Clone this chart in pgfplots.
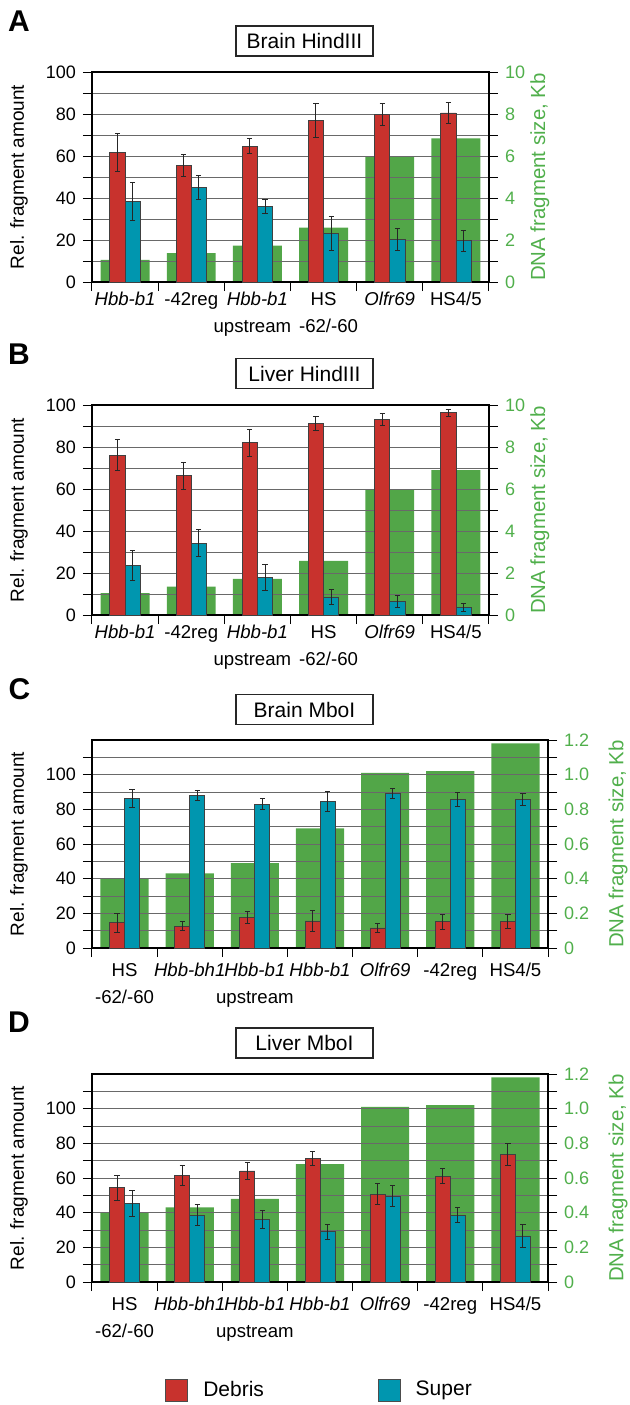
\documentclass[border=0pt]{standalone}
\usepackage{fontspec}
\setmainfont{Liberation Sans}
\usepackage{pgfplots}
\usepackage{pgfplotstable}
\pgfplotsset{compat=1.18}
\definecolor{cred}{RGB}{200,50,45}
\definecolor{cblue}{RGB}{0,150,175}
\definecolor{cgreen}{RGB}{82,166,72}
\definecolor{ctext}{RGB}{80,175,75}
\definecolor{cgrid}{RGB}{105,105,105}

% x: category position; xd/xs: positions of the Debris/Super bars
\pgfplotstableread{
x xd xs d de s se g
0 -0.115 0.115 61.6 9.0 38.4 9.0 1.05
1 0.885 1.115 55.6 5.2 45.2 5.7 1.37
2 1.885 2.115 64.6 3.6 35.9 3.4 1.73
3 2.885 3.115 76.8 8.0 23.3 8.1 2.59
4 3.885 4.115 79.7 5.2 20.2 5.2 5.98
5 4.885 5.115 80.5 4.9 19.7 5.0 6.84
}\tabA
\pgfplotstableread{
x xd xs d de s se g
0 -0.115 0.115 76.1 7.3 23.6 7.3 1.04
1 0.885 1.115 66.4 6.4 34.2 6.5 1.35
2 1.885 2.115 82.0 6.4 18.0 6.2 1.72
3 2.885 3.115 91.2 3.5 8.6 3.6 2.58
4 3.885 4.115 93.0 2.8 6.5 2.8 6.00
5 4.885 5.115 96.3 1.7 3.7 1.8 6.90
}\tabB
\pgfplotstableread{
x xd xs d de s se g
0 -0.115 0.115 14.5 5.5 86.3 5.4 0.40
1 0.885 1.115 12.7 2.6 88.0 3.0 0.43
2 1.885 2.115 17.6 3.3 83.0 3.3 0.49
3 2.885 3.115 15.6 6.0 84.6 5.8 0.69
4 3.885 4.115 11.6 2.6 89.0 2.8 1.01
5 4.885 5.115 15.1 4.4 85.7 4.2 1.02
6 5.885 6.115 15.1 4.0 85.7 3.7 1.18
}\tabC
\pgfplotstableread{
x xd xs d de s se g
0 -0.115 0.115 54.4 7.3 45.2 7.4 0.40
1 0.885 1.115 61.4 5.7 38.6 6.1 0.43
2 1.885 2.115 64.1 5.0 35.9 5.2 0.48
3 2.885 3.115 71.2 4.2 29.0 4.2 0.68
4 3.885 4.115 50.6 6.1 49.4 6.1 1.01
5 4.885 5.115 61.0 4.3 38.6 4.4 1.02
6 5.885 6.115 73.4 6.4 26.6 6.6 1.18
}\tabD

\pgfplotsset{
  /pgf/number format/assume math mode=true,
  common/.style={scale only axis, anchor=south west, xmin=-0.5, tick align=outside,
     major tick length=4.5pt, minor tick length=4.5pt,
     every tick/.style={black, line width=0.5pt},
     tick label style={font=\fontsize{9}{11}\selectfont},
     axis line style={black, line width=0.6pt}},
  kbaxis/.style={common, axis y line*=right, axis x line=none,
     yticklabel style={text=ctext},
     every axis y label/.style={at={(axis description cs:#1,0.5)}, rotate=90, anchor=center, text=ctext, font=\fontsize{10.2}{12}\selectfont},
     ylabel={DNA fragment size, Kb}},
  relaxis/.style={common, xtick pos=bottom, ytick pos=left,
     ymajorgrids, yminorgrids,
     major grid style={cgrid, line width=0.5pt}, minor grid style={cgrid, line width=0.5pt},
     every axis y label/.style={at={(axis description cs:#1,0.5)}, rotate=90, anchor=center, font=\fontsize{9.5}{11}\selectfont},
     ylabel={Rel. fragment amount},
     xticklabels={},
     extra x tick style={major tick length=0pt, xticklabel style={align=center, anchor=north, inner sep=0pt, font=\fontsize{9.3}{13.5}\selectfont}}},
  err/.style={error bars/.cd, y dir=both, y explicit, error bar style={black!85, line width=0.5pt}, error mark options={rotate=90, mark size=1.3pt, line width=0.5pt, black!85}},
  gbar/.style={ybar, bar width=0.74, bar shift=0, fill=cgreen, draw=none},
  dbar/.style={ybar, bar width=0.23, bar shift=0, fill=cred, draw=black!75, line width=0.4pt, err},
  sbar/.style={ybar, bar width=0.23, bar shift=0, fill=cblue, draw=black!75, line width=0.4pt, err},
}
\newcommand{\st}{\rule{0pt}{7pt}}

\begin{document}
\begin{tikzpicture}
\useasboundingbox (0,0) rectangle (315pt,-702.5pt);

% ---------------- Panel A
\begin{axis}[kbaxis=1.128, at={(46pt,-141pt)}, width=198.5pt, height=105pt, xmax=5.5,
  ymin=0, ymax=10, ytick={0,2,...,10}, minor ytick={1,3,...,9}]
\addplot[gbar] table[x=x,y=g]{\tabA};
\end{axis}
\begin{axis}[relaxis=-0.184, at={(46pt,-141pt)}, width=198.5pt, height=105pt, xmax=5.5,
  ymin=0, ymax=100, ytick={0,20,...,100}, minor ytick={10,30,...,90},
  xtick={-0.5,0.5,...,5.5}, extra x ticks={0,1,2,3,4,5},
  extra x tick style={xticklabel style={yshift=-4.5pt}},
  extra x tick labels={\st\textit{Hbb-b1},\st-42reg,{\st\textit{Hbb-b1}\\upstream\rule{5pt}{0pt}},{\st HS\\\rule{5pt}{0pt}-62/-60},\st\textit{Olfr69},\st HS4/5}]
\addplot[dbar] table[x=xd,y=d,y error=de]{\tabA};
\addplot[sbar] table[x=xs,y=s,y error=se]{\tabA};
\end{axis}

% ---------------- Panel B
\begin{axis}[kbaxis=1.128, at={(46pt,-307.5pt)}, width=198.5pt, height=105pt, xmax=5.5,
  ymin=0, ymax=10, ytick={0,2,...,10}, minor ytick={1,3,...,9}]
\addplot[gbar] table[x=x,y=g]{\tabB};
\end{axis}
\begin{axis}[relaxis=-0.184, at={(46pt,-307.5pt)}, width=198.5pt, height=105pt, xmax=5.5,
  ymin=0, ymax=100, ytick={0,20,...,100}, minor ytick={10,30,...,90},
  xtick={-0.5,0.5,...,5.5}, extra x ticks={0,1,2,3,4,5},
  extra x tick style={xticklabel style={yshift=-4.5pt}},
  extra x tick labels={\st\textit{Hbb-b1},\st-42reg,{\st\textit{Hbb-b1}\\upstream\rule{5pt}{0pt}},{\st HS\\\rule{5pt}{0pt}-62/-60},\st\textit{Olfr69},\st HS4/5}]
\addplot[dbar] table[x=xd,y=d,y error=de]{\tabB};
\addplot[sbar] table[x=xs,y=s,y error=se]{\tabB};
\end{axis}

% ---------------- Panel C
\begin{axis}[kbaxis=1.1535, at={(46pt,-474pt)}, width=228pt, height=104pt, xmax=6.5,
  ymin=0, ymax=1.2, ytick={0,0.2,0.4,0.6,0.8,1.0,1.2}, yticklabels={0,0.2,0.4,0.6,0.8,1.0,1.2},
  minor ytick={0.1,0.3,0.5,0.7,0.9,1.1}]
\addplot[gbar] table[x=x,y=g]{\tabC};
\end{axis}
\begin{axis}[relaxis=-0.160, at={(46pt,-474pt)}, width=228pt, height=104pt, xmax=6.5,
  ymin=0, ymax=120, ytick={0,20,...,100}, minor ytick={10,30,...,110},
  xtick={-0.5,0.5,...,6.5}, extra x ticks={0,1,2,3,4,5,6},
  extra x tick style={xticklabel style={yshift=-7pt}},
  extra x tick labels={{\st HS\\-62/-60},\st\textit{Hbb-bh1},{\st\textit{Hbb-b1}\\upstream},\st\textit{Hbb-b1},\st\textit{Olfr69},\st-42reg,\st HS4/5}]
\addplot[dbar] table[x=xd,y=d,y error=de]{\tabC};
\addplot[sbar] table[x=xs,y=s,y error=se]{\tabC};
\end{axis}

% ---------------- Panel D
\begin{axis}[kbaxis=1.1535, at={(46pt,-641pt)}, width=228pt, height=104pt, xmax=6.5,
  ymin=0, ymax=1.2, ytick={0,0.2,0.4,0.6,0.8,1.0,1.2}, yticklabels={0,0.2,0.4,0.6,0.8,1.0,1.2},
  minor ytick={0.1,0.3,0.5,0.7,0.9,1.1}]
\addplot[gbar] table[x=x,y=g]{\tabD};
\end{axis}
\begin{axis}[relaxis=-0.160, at={(46pt,-641pt)}, width=228pt, height=104pt, xmax=6.5,
  ymin=0, ymax=120, ytick={0,20,...,100}, minor ytick={10,30,...,110},
  xtick={-0.5,0.5,...,6.5}, extra x ticks={0,1,2,3,4,5,6},
  extra x tick style={xticklabel style={yshift=-7pt}},
  extra x tick labels={{\st HS\\-62/-60},\st\textit{Hbb-bh1},{\st\textit{Hbb-b1}\\upstream},\st\textit{Hbb-b1},\st\textit{Olfr69},\st-42reg,\st HS4/5}]
\addplot[dbar] table[x=xd,y=d,y error=de]{\tabD};
\addplot[sbar] table[x=xs,y=s,y error=se]{\tabD};
\end{axis}

% ---------------- Legend
\begin{axis}[hide axis, scale only axis, anchor=south west, at={(0pt,-702.5pt)}, width=315pt, height=30pt,
  xmin=0, xmax=1, ymin=0, ymax=1,
  legend image code/.code={\draw[#1] (0pt,-5.5pt) rectangle (11pt,5.5pt);},
  legend columns=2,
  legend style={at={(axis description cs:0.262,0.25)}, anchor=west, draw=none, fill=none,
    font=\fontsize{10.5}{12}\selectfont, inner sep=0pt,
    /tikz/every odd column/.append style={column sep=5.5pt},
    /tikz/every even column/.append style={column sep=55pt}}]
\addlegendimage{fill=cred, draw=black!70, line width=0.4pt}
\addlegendentry{Debris}
\addlegendimage{fill=cblue, draw=black!70, line width=0.4pt}
\addlegendentry{Super}
\end{axis}

% ---------------- Titles and panel letters
\tikzset{ttl/.style={draw=black!85, line width=0.6pt, minimum width=68.5pt, minimum height=15pt, inner sep=0pt, font=\fontsize{10.5}{12}\selectfont},
  ltr/.style={font=\fontsize{15}{18}\selectfont\bfseries}}
\node[ttl] at (152.25pt,-20.5pt) {Brain HindIII};
\node[ttl] at (152.25pt,-186.75pt) {Liver HindIII};
\node[ttl] at (152.25pt,-354.75pt) {Brain MboI};
\node[ttl] at (152.25pt,-521.5pt) {Liver MboI};
\node[ltr] at (9.5pt,-10.5pt) {A};
\node[ltr] at (9.5pt,-177.25pt) {B};
\node[ltr] at (9.75pt,-344.5pt) {C};
\node[ltr] at (9.5pt,-511pt) {D};
\end{tikzpicture}
\end{document}
